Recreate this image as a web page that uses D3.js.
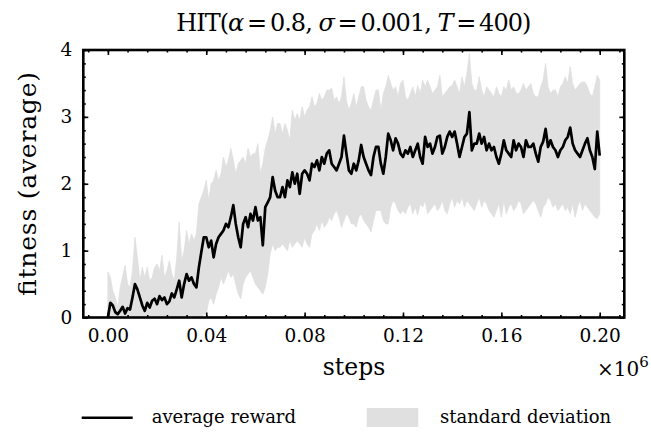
<!DOCTYPE html>
<html>
<head>
<meta charset="utf-8">
<script src="https://cdn.jsdelivr.net/npm/d3@7"></script>
<style>
  html, body { margin: 0; padding: 0; background: #fff; }
  svg { display: block; }
  text { font-family: "DejaVu Serif", serif; fill: #000; }
</style>
</head>
<body>
<svg id="chart" width="651" height="432"></svg>
<script>
// ---- data (steps in units of 1e6, sampled every 0.001) ----
const stepStart = 0.0;
const stepInterval = 0.001;

const meanReward = [
  0.00, 0.22, 0.18, 0.08, 0.05, 0.10, 0.16, 0.06, 0.14, 0.12,
  0.30, 0.50, 0.42, 0.30, 0.18, 0.10, 0.22, 0.15, 0.25, 0.28,
  0.20, 0.32, 0.26, 0.30, 0.20, 0.24, 0.36, 0.30, 0.42, 0.55,
  0.30, 0.50, 0.65, 0.55, 0.60, 0.50, 0.45, 0.75, 0.98, 1.20,
  1.20, 1.05, 1.15, 0.90, 1.10, 1.20, 1.25, 1.30, 1.40, 1.35,
  1.50, 1.68, 1.40, 1.20, 1.05, 1.40, 1.50, 1.35, 1.55, 1.45,
  1.65, 1.45, 1.50, 1.08, 1.65, 1.72, 1.80, 2.10, 1.90, 1.80,
  1.80, 1.95, 1.80, 2.05, 1.95, 2.17, 2.00, 2.15, 1.85, 2.15,
  2.20, 2.15, 2.05, 2.30, 2.25, 2.35, 2.20, 2.40, 2.30, 2.45,
  2.50, 2.30, 2.25, 2.20, 2.30, 2.40, 2.72, 2.45, 2.20, 2.15,
  2.30, 2.20, 2.35, 2.58, 2.40, 2.30, 2.20, 2.13, 2.40, 2.55,
  2.55, 2.30, 2.15, 2.40, 2.75, 2.65, 2.50, 2.68, 2.60, 2.45,
  2.40, 2.50, 2.45, 2.55, 2.40, 2.50, 2.60, 2.40, 2.30, 2.70,
  2.55, 2.60, 2.45, 2.55, 2.70, 2.72, 2.45, 2.55, 2.70, 2.78,
  2.70, 2.78, 2.60, 2.40, 2.55, 2.70, 2.75, 3.07, 2.50, 2.60,
  2.60, 2.75, 2.60, 2.70, 2.50, 2.60, 2.50, 2.55, 2.40, 2.30,
  2.45, 2.65, 2.50, 2.45, 2.40, 2.65, 2.50, 2.60, 2.55, 2.40,
  2.65, 2.55, 2.55, 2.60, 2.45, 2.33, 2.55, 2.63, 2.82, 2.55,
  2.65, 2.55, 2.50, 2.40, 2.50, 2.55, 2.65, 2.70, 2.84, 2.60,
  2.50, 2.45, 2.40, 2.50, 2.60, 2.68, 2.50, 2.40, 2.22, 2.78, 2.42
];

const upperBound = [
  0.68, 0.60, 0.40, 0.30, 0.15, 0.45, 0.62, 0.78, 0.50, 0.45,
  0.70, 1.20, 0.90, 0.55, 0.75, 0.60, 0.75, 0.55, 0.60, 0.75,
  0.80, 0.70, 0.93, 0.60, 0.70, 0.85, 0.65, 0.55, 0.90, 1.43,
  0.85, 1.00, 1.30, 1.10, 1.25, 1.15, 1.25, 1.70, 1.80, 1.90,
  2.05, 1.75, 2.00, 2.05, 2.20, 2.05, 2.15, 2.40, 2.25, 2.35,
  2.53, 2.35, 2.15, 2.30, 2.35, 2.40, 2.30, 2.53, 2.40, 2.45,
  2.45, 2.60, 2.15, 2.30, 2.53, 2.65, 2.80, 3.00, 2.75, 2.90,
  2.90, 2.75, 2.90, 2.80, 2.65, 3.10, 2.95, 3.05, 2.95, 3.15,
  3.00, 3.10, 3.15, 3.30, 3.15, 3.20, 3.35, 3.25, 3.30, 3.40,
  3.40, 3.43, 3.25, 3.30, 3.20, 3.30, 3.60, 3.25, 3.10, 3.20,
  3.35, 3.15, 3.30, 3.45, 3.45, 3.25, 3.15, 3.10, 3.25, 3.40,
  3.40, 3.10, 3.35, 3.45, 3.62, 3.50, 3.40, 3.45, 3.30, 3.50,
  3.55, 3.30, 3.25, 3.35, 3.45, 3.30, 3.47, 3.35, 3.55, 3.45,
  3.55, 3.45, 3.35, 3.40, 3.45, 3.62, 3.30, 3.35, 3.40, 3.45,
  3.47, 3.55, 3.45, 3.35, 3.60, 3.45, 3.65, 3.95, 3.50, 3.40,
  3.40, 3.60, 3.40, 3.30, 3.45, 3.40, 3.35, 3.30, 3.45, 3.35,
  3.30, 3.45, 3.40, 3.55, 3.40, 3.45, 3.35, 3.35, 3.40, 3.50,
  3.40, 3.45, 3.50, 3.35, 3.30, 3.30, 3.45, 3.55, 3.80, 3.45,
  3.35, 3.40, 3.40, 3.30, 3.45, 3.50, 3.60, 3.50, 3.75, 3.50,
  3.40, 3.45, 3.50, 3.52, 3.52, 3.45, 3.35, 3.30, 3.45, 3.62, 3.55
];

const lowerBound = [
  -0.45, -0.20, -0.10, -0.15, -0.10, -0.25, -0.30, -0.50, -0.20, -0.20,
  -0.15, -0.20, -0.10, -0.05, -0.30, -0.35, -0.30, -0.25, -0.10, -0.20,
  -0.35, -0.10, -0.35, -0.05, -0.25, -0.35, -0.05, -0.05, -0.10, -0.30,
  -0.20, -0.05, -0.05, -0.05, -0.10, -0.10, -0.15, -0.05, 0.00, 0.05,
  0.05, 0.25, 0.30, 0.20, 0.35, 0.45, 0.60, 0.50, 0.60, 0.70,
  0.60, 0.65, 0.50, 0.35, 0.28, 0.50, 0.60, 0.65, 0.70, 0.60,
  0.50, 0.45, 0.40, 0.35, 0.45, 0.65, 0.95, 1.10, 1.00, 1.05,
  1.05, 1.10, 1.05, 1.00, 1.15, 1.05, 1.10, 1.15, 1.10, 1.05,
  1.20, 1.10, 1.05, 1.25, 1.30, 1.40, 1.30, 1.45, 1.35, 1.40,
  1.50, 1.45, 1.55, 1.60, 1.50, 1.35, 1.45, 1.55, 1.50, 1.40,
  1.40, 1.35, 1.50, 1.55, 1.45, 1.40, 1.35, 1.28, 1.45, 1.60,
  1.60, 1.60, 1.45, 1.40, 1.40, 1.65, 1.75, 1.70, 1.60, 1.55,
  1.60, 1.55, 1.65, 1.70, 1.55, 1.65, 1.53, 1.70, 1.65, 1.75,
  1.55, 1.60, 1.65, 1.70, 1.60, 1.65, 1.75, 1.60, 1.55, 1.70,
  1.80, 1.65, 1.75, 1.70, 1.80, 1.65, 1.75, 1.70, 1.65, 1.60,
  1.70, 1.80, 1.65, 1.75, 1.70, 1.60, 1.55, 1.50, 1.60, 1.70,
  1.50, 1.75, 1.55, 1.65, 1.70, 1.60, 1.65, 1.75, 1.70, 1.55,
  1.60, 1.65, 1.70, 1.75, 1.70, 1.60, 1.50, 1.65, 1.70, 1.80,
  1.75, 1.65, 1.70, 1.60, 1.65, 1.70, 1.60, 1.65, 1.55, 1.70,
  1.50, 1.65, 1.75, 1.60, 1.70, 1.65, 1.60, 1.55, 1.50, 1.48, 1.55
];

const xTickValues = [0.00, 0.04, 0.08, 0.12, 0.16, 0.20];
const xTickLabels = ["0.00", "0.04", "0.08", "0.12", "0.16", "0.20"];
const yTickValues = [0, 1, 2, 3, 4];
const yTickLabels = ["0", "1", "2", "3", "4"];
const xDomain = [-0.01, 0.21];
const yDomain = [0, 4];
const xMinorStep = 0.008;
const yMinorStep = 0.2;

// ---- layout ----
const svg = d3.select("#chart");
const plot = { left: 83.3, right: 624.3, top: 50, bottom: 317.5 };
const bandColor = "#e0e0e0";

const x = d3.scaleLinear().domain(xDomain).range([plot.left, plot.right]);
const y = d3.scaleLinear().domain(yDomain).range([plot.bottom, plot.top]);

const data = meanReward.map((m, i) => ({
  step: stepStart + i * stepInterval,
  mean: m,
  upper: upperBound[i],
  lower: lowerBound[i]
}));

svg.append("defs").append("clipPath").attr("id", "clip")
  .append("rect")
  .attr("x", plot.left).attr("y", plot.top)
  .attr("width", plot.right - plot.left).attr("height", plot.bottom - plot.top);

const g = svg.append("g").attr("clip-path", "url(#clip)");

g.append("path")
  .datum(data)
  .attr("fill", bandColor)
  .attr("stroke", bandColor)
  .attr("stroke-width", 0.8)
  .attr("d", d3.area().x(d => x(d.step)).y0(d => y(d.lower)).y1(d => y(d.upper)));

g.append("path")
  .datum(data)
  .attr("fill", "none")
  .attr("stroke", "#000")
  .attr("stroke-width", 2.7)
  .attr("stroke-linejoin", "round")
  .attr("d", d3.line().x(d => x(d.step)).y(d => y(d.mean)));

// ---- axes (ticks inside on all four sides) ----
const xMinor = d3.range(-0.008, 0.2100001, xMinorStep).map(v => +v.toFixed(3));
const yMinor = d3.range(0, 4.0001, yMinorStep).map(v => +v.toFixed(2));

function styleAxis(sel) {
  sel.select(".domain").remove();
  sel.selectAll("line").attr("stroke", "#000").attr("stroke-width", 1.6);
  sel.selectAll("text").style("font-family", '"DejaVu Serif", serif').style("font-size", "18.5px").attr("fill", "#000");
}

// bottom
svg.append("g").attr("transform", `translate(0,${plot.bottom})`)
  .call(d3.axisBottom(x).tickValues(xMinor).tickSize(-2.5).tickFormat(""))
  .call(styleAxis);
svg.append("g").attr("transform", `translate(0,${plot.bottom})`)
  .call(d3.axisBottom(x).tickValues(xTickValues).tickSize(-5).tickPadding(11)
    .tickFormat((d, i) => xTickLabels[i]))
  .call(styleAxis);
// top
svg.append("g").attr("transform", `translate(0,${plot.top})`)
  .call(d3.axisTop(x).tickValues(xMinor).tickSize(-2.5).tickFormat(""))
  .call(styleAxis);
svg.append("g").attr("transform", `translate(0,${plot.top})`)
  .call(d3.axisTop(x).tickValues(xTickValues).tickSize(-5).tickFormat(""))
  .call(styleAxis);
// left
svg.append("g").attr("transform", `translate(${plot.left},0)`)
  .call(d3.axisLeft(y).tickValues(yMinor).tickSize(-2.5).tickFormat(""))
  .call(styleAxis);
svg.append("g").attr("transform", `translate(${plot.left},0)`)
  .call(d3.axisLeft(y).tickValues(yTickValues).tickSize(-5).tickPadding(11)
    .tickFormat((d, i) => yTickLabels[i]))
  .call(styleAxis);
// right
svg.append("g").attr("transform", `translate(${plot.right},0)`)
  .call(d3.axisRight(y).tickValues(yMinor).tickSize(-2.5).tickFormat(""))
  .call(styleAxis);
svg.append("g").attr("transform", `translate(${plot.right},0)`)
  .call(d3.axisRight(y).tickValues(yTickValues).tickSize(-5).tickFormat(""))
  .call(styleAxis);

// frame
svg.append("rect")
  .attr("x", plot.left).attr("y", plot.top)
  .attr("width", plot.right - plot.left).attr("height", plot.bottom - plot.top)
  .attr("fill", "none").attr("stroke", "#000").attr("stroke-width", 2.6);

// ---- title ----
const title = svg.append("text")
  .attr("x", (plot.left + plot.right) / 2).attr("y", 31)
  .attr("text-anchor", "middle")
  .attr("textLength", 355)
  .attr("lengthAdjust", "spacing")
  .style("font-size", "24px");
[["HIT(", false], ["α", true], ["\u2009=\u20090.8, ", false], ["σ", true],
 ["\u2009=\u20090.001, ", false], ["T", true], ["\u2009=\u2009400)", false]].forEach(([t, it]) => {
  title.append("tspan").text(t).style("font-style", it ? "italic" : "normal");
});

// ---- axis titles ----
svg.append("text")
  .attr("x", 354).attr("y", 375)
  .attr("text-anchor", "middle")
  .style("font-size", "23.5px")
  .text("steps");

const mult = svg.append("text")
  .attr("x", 597).attr("y", 376)
  .style("font-size", "20px");
mult.append("tspan").text("×10");
mult.append("tspan").text("6").attr("dy", -9).style("font-size", "15px");

svg.append("text")
  .attr("transform", "translate(36,184) rotate(-90)")
  .attr("text-anchor", "middle")
  .attr("textLength", 224)
  .attr("lengthAdjust", "spacing")
  .style("font-size", "25px")
  .text("fitness (average)");

// ---- legend ----
const legend = svg.append("g");
legend.append("line")
  .attr("x1", 81.7).attr("x2", 132.7).attr("y1", 417.7).attr("y2", 417.7)
  .attr("stroke", "#000").attr("stroke-width", 2.5);
legend.append("text")
  .attr("x", 151.7).attr("y", 423.3)
  .style("font-size", "18px")
  .text("average reward");
legend.append("rect")
  .attr("x", 366.7).attr("y", 408).attr("width", 51.6).attr("height", 19)
  .attr("fill", bandColor);
legend.append("text")
  .attr("x", 440).attr("y", 423.3)
  .style("font-size", "18px")
  .text("standard deviation");
</script>
</body>
</html>
